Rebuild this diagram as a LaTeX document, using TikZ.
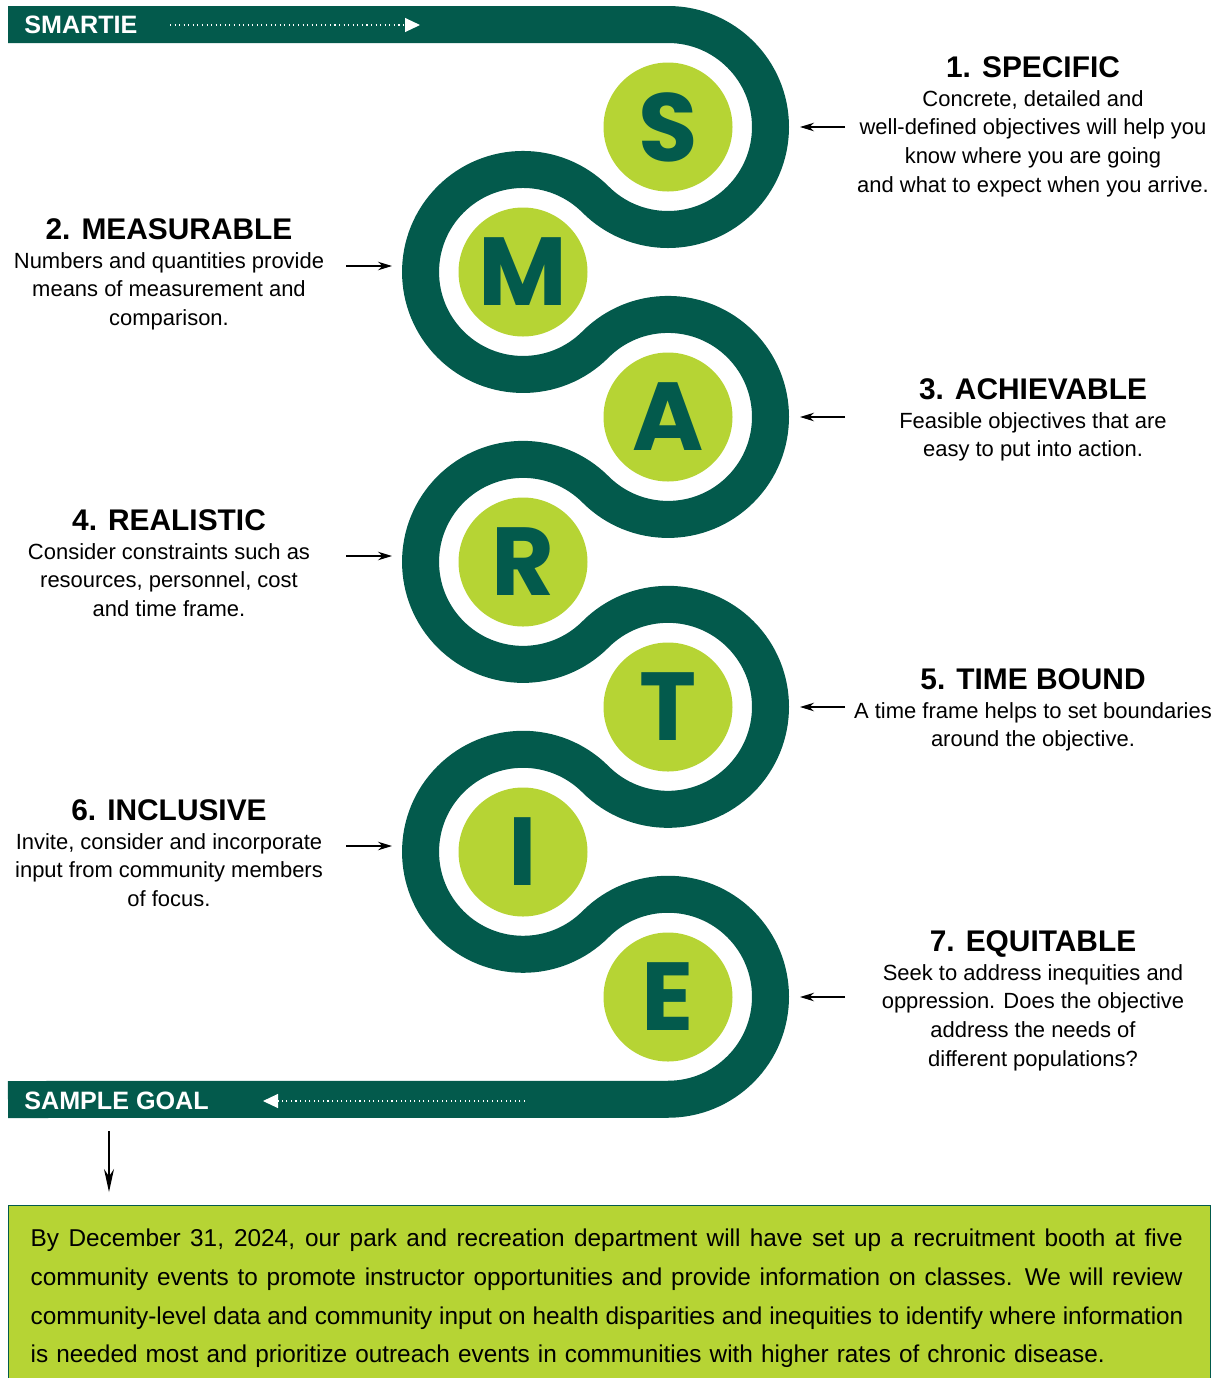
\documentclass[tikz,border=0pt]{standalone}
\usepackage{fontspec}
\setmainfont{Liberation Sans}
\newfontfamily\letterfont{Poppins}
\usetikzlibrary{positioning,calc,arrows.meta}

\definecolor{forest}{RGB}{3,90,76}
\definecolor{lime}{RGB}{182,212,52}

% one line of the goal text, spread to the full width
\newcommand\fullline[1]{\leavevmode\hbox to 230.4mm{\spaceskip=0.278em plus 1em\relax #1}}

\tikzset{
  band/.style={draw=forest, line width=7.4mm},
  letterdot/.style={circle, fill=lime, minimum size=25.8mm, inner sep=0pt,
    text=forest, font=\letterfont\bfseries\fontsize{55}{55}\selectfont},
  bandlabel/.style={anchor=west, inner sep=0pt, text=white,
    font=\bfseries\fontsize{14.3}{16}\selectfont},
  title/.style={inner sep=0pt, anchor=base, font=\bfseries\fontsize{17}{20}\selectfont},
  blurb/.style={inner sep=0pt, align=center, font=\fontsize{12.5}{16.3}\selectfont},
  pointer/.style={line width=0.7pt, -{Stealth[length=2.8mm,width=1.7mm]}},
  flow/.style={white, line width=0.6pt, dotted, -{Triangle[length=3mm,width=2.8mm]}},
  goalbox/.style={draw=forest, fill=lime, line width=0.8pt, anchor=north west,
    inner xsep=4.4mm, inner ysep=4.6mm, text width=231.6mm, align=left,
    font=\fontsize{13.85}{22.1}\selectfont}
}

\begin{document}
\begin{tikzpicture}[x=0.2mm,y=0.2mm]
\useasboundingbox (0,0) rectangle (1224,-1378);

% the winding track
\draw[band] (8,-24.5) -- (668,-24.5)
  arc[start angle=90, end angle=-135, radius=102.5]
  arc[start angle=45, end angle=315, radius=102.5]
  arc[start angle=135, end angle=-135, radius=102.5]
  arc[start angle=45, end angle=315, radius=102.5]
  arc[start angle=135, end angle=-135, radius=102.5]
  arc[start angle=45, end angle=315, radius=102.5]
  arc[start angle=135, end angle=-90, radius=102.5]
  -- (8,-1099.5);

% letters
\node[letterdot] (s) at (668,-127) {S};
\node[letterdot] (m) at (523,-272) {M};
\node[letterdot] (a) at (668,-417) {A};
\node[letterdot] (r) at (523,-562) {R};
\node[letterdot] (t) at (668,-707) {T};
\node[letterdot] (i) at (523,-852) {I};
\node[letterdot] (e) at (668,-997) {E};

% start and end of the track
\node[bandlabel] (smartie) at (24,-25) {SMARTIE};
\draw[flow] (170,-25) -- (420,-25);
\node[bandlabel] (sample) at (24,-1101) {SAMPLE GOAL};
\draw[flow] (525,-1101) -- (263,-1101);

% right column
\node[title] (spec-title) at (1033,-77) {1. SPECIFIC};
\node[blurb, below=2.6mm of spec-title.base] (spec-text) {Concrete, detailed and\\
  well-defined objectives will help you\\ know where you are going\\
  and what to expect when you arrive.};
\draw[pointer] ($(s)+(177,0)$) -- ($(s)+(132,0)$);

\node[title] (achi-title) at (1033,-399) {3. ACHIEVABLE};
\node[blurb, below=2.6mm of achi-title.base] (achi-text) {Feasible objectives that are\\
  easy to put into action.};
\draw[pointer] ($(a)+(177,0)$) -- ($(a)+(132,0)$);

\node[title] (time-title) at (1033,-689) {5. TIME BOUND};
\node[blurb, below=2.6mm of time-title.base] (time-text) {A time frame helps to set boundaries\\
  around the objective.};
\draw[pointer] ($(t)+(177,0)$) -- ($(t)+(132,0)$);

\node[title] (equi-title) at (1033,-951) {7. EQUITABLE};
\node[blurb, below=2.6mm of equi-title.base] (equi-text) {Seek to address inequities and\\
  oppression. Does the objective\\ address the needs of\\ different populations?};
\draw[pointer] ($(e)+(177,0)$) -- ($(e)+(132,0)$);

% left column
\node[title] (meas-title) at (169,-239) {2. MEASURABLE};
\node[blurb, below=2.6mm of meas-title.base] (meas-text) {Numbers and quantities provide\\
  means of measurement and\\ comparison.};
\draw[pointer] ($(m)+(-177,6)$) -- ($(m)+(-131,6)$);

\node[title] (real-title) at (169,-530) {4. REALISTIC};
\node[blurb, below=2.6mm of real-title.base] (real-text) {Consider constraints such as\\
  resources, personnel, cost\\ and time frame.};
\draw[pointer] ($(r)+(-177,6)$) -- ($(r)+(-131,6)$);

\node[title] (incl-title) at (169,-820) {6. INCLUSIVE};
\node[blurb, below=2.6mm of incl-title.base] (incl-text) {Invite, consider and incorporate\\
  input from community members\\ of focus.};
\draw[pointer] ($(i)+(-177,6)$) -- ($(i)+(-131,6)$);

% sample goal
\node[goalbox] (goal) at (8,-1205) {%
  \fullline{By December 31, 2024, our park and recreation department will have set up a recruitment booth at five}\\
  \fullline{community events to promote instructor opportunities and provide information on classes. We will review}\\
  \fullline{community-level data and community input on health disparities and inequities to identify where information}\\
  is needed most and prioritize outreach events in communities with higher rates of chronic disease.};
\coordinate (drop-top) at (109,-1131);
\coordinate (drop-end) at (109,-1192);
\draw[line width=0.7pt, -{Stealth[length=4.6mm,width=2mm]}] (drop-top) -- (drop-end);
\end{tikzpicture}
\end{document}
